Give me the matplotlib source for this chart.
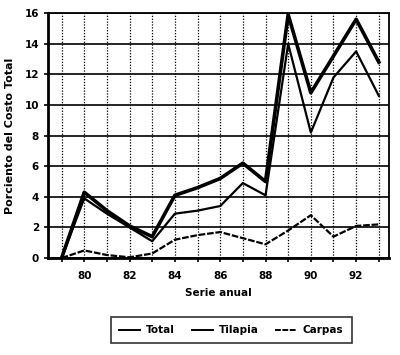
import matplotlib
matplotlib.use("Agg")
import matplotlib.pyplot as plt
from matplotlib.ticker import MultipleLocator

years = [1979, 1980, 1981, 1982, 1983, 1984, 1985, 1986, 1987, 1988, 1989, 1990, 1991, 1992, 1993]
total = [0.0, 4.3, 3.1, 2.1, 1.4, 4.1, 4.6, 5.2, 6.2, 5.0, 15.9, 10.8, 13.2, 15.6, 12.8]
tilapia = [0.0, 3.9, 2.9, 2.0, 1.1, 2.9, 3.1, 3.4, 4.9, 4.1, 14.0, 8.2, 11.8, 13.5, 10.6]
carpas = [0.0, 0.5, 0.2, 0.05, 0.3, 1.2, 1.5, 1.7, 1.3, 0.9, 1.8, 2.8, 1.4, 2.1, 2.2]
xtick_vals = [1980, 1982, 1984, 1986, 1988, 1990, 1992]
xtick_labels = ["80", "82", "84", "86", "88", "90", "92"]

plt.rcParams['font.family'] = ['DejaVu Sans']
plt.rcParams['font.weight'] = 'bold'

fig = plt.figure(figsize=(4.0, 3.55), dpi=100)
ax = fig.add_axes([0.12, 0.273, 0.8525, 0.69])

ax.plot(years, total, color='black', lw=2.6, label='Total', zorder=5)
ax.plot(years, tilapia, color='black', lw=1.6, label='Tilapia', zorder=4)
ax.plot(years, carpas, color='black', lw=1.6, ls=(0, (3, 0.8)), label='Carpas', zorder=4)

ax.set_xlim(1978.4, 1993.45)
ax.set_ylim(0, 16)
ax.yaxis.set_major_locator(MultipleLocator(2))
ax.set_xticks(years, minor=True)
ax.set_xticks(xtick_vals)
ax.set_xticklabels(xtick_labels)

ax.grid(True, axis='y', color='black', lw=1.2, ls='-')
for y in years:
    ax.axvline(y, color='black', lw=0.9, ls=(0, (1, 1.3)), zorder=1)

for sp in ax.spines.values():
    sp.set_linewidth(1.3)
ax.spines['left'].set_linewidth(2.0)
ax.spines['bottom'].set_linewidth(2.0)

ax.tick_params(axis='both', which='both', direction='out', length=3, width=1.2, labelsize=7.5)
ax.tick_params(axis='x', which='major', pad=6)
for lab in ax.get_xticklabels() + ax.get_yticklabels():
    lab.set_fontweight('bold')

ax.set_ylabel('Porciento del Costo Total', fontsize=8, fontweight='bold', labelpad=7)
ax.set_xlabel('Serie anual', fontsize=7.5, fontweight='bold', labelpad=5)

leg = fig.legend(loc='center', bbox_to_anchor=(0.578, 0.07), ncol=3, frameon=True,
                 fancybox=False, edgecolor='black', fontsize=7.5, handlelength=2.0,
                 handletextpad=0.6, columnspacing=1.6, borderpad=0.8)
leg.get_frame().set_linewidth(1.2)
for line in leg.get_lines():
    line.set_linewidth(1.4)
for t in leg.get_texts():
    t.set_fontweight('bold')

fig.savefig('out.png', dpi=100)
